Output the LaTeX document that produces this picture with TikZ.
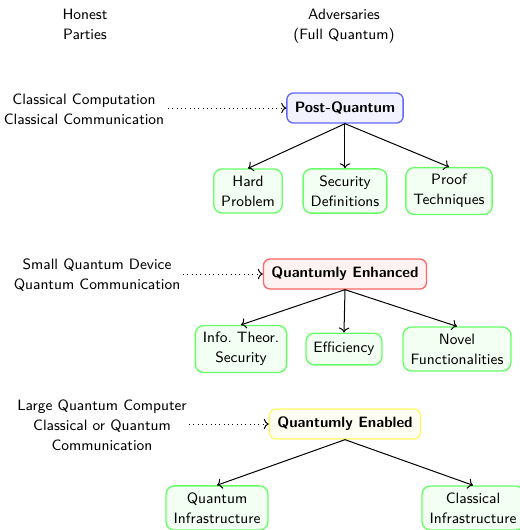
\documentclass[tikz,border=0pt]{standalone}
\usetikzlibrary{arrows.meta}
\begin{document}
\begin{tikzpicture}[x=0.6pt,y=-0.6pt,font=\sffamily\fontsize{9}{12}\selectfont,
  every node/.style={align=center},
  catbox/.style={draw,rounded corners=4pt,thick,inner xsep=4.8pt,inner ysep=4pt,minimum height=18pt,font=\sffamily\bfseries\fontsize{9}{12}\selectfont},
  pq/.style={catbox,draw=blue!60,fill=blue!5},
  qeh/.style={catbox,draw=red!60,fill=red!5},
  qeb/.style={catbox,draw=yellow!60,fill=yellow!5},
  leaf/.style={draw=green!60,fill=green!5,thick,rounded corners=5pt,inner xsep=4.5pt,inner ysep=4pt,minimum height=19pt},
  arr/.style={-{To[length=3pt]},semithick},
  dot/.style={-{To[length=3pt]},dotted,semithick}]
\useasboundingbox (0,0) rectangle (520,530);
\node (hon) at (85,24) {Honest\\Parties};
\node (adv) at (344,26) {Adversaries\\(Full Quantum)};

\node (l1) at (84,109) {Classical Computation\\Classical Communication};
\node[pq] (pq) at (345,108) {Post-Quantum};
\coordinate (s1) at (168,108);
\draw[dot] (s1) -- (pq);
\node[leaf] (hp) at (248,191) {Hard\\Problem};
\node[leaf] (sd) at (345,191) {Security\\Definitions};
\node[leaf] (pt) at (449,191) {Proof\\Techniques};
\draw[arr] (pq.south) -- (hp.north);
\draw[arr] (pq.south) -- (sd.north);
\draw[arr] (pq.south) -- (pt.north);

\node (l2) at (97,275) {Small Quantum Device\\Quantum Communication};
\node[qeh] (qeh) at (345,274) {Quantumly Enhanced};
\coordinate (s2) at (183,274);
\draw[dot] (s2) -- (qeh);
\node[leaf] (its) at (241,349) {Info.\ Theor.\\Security};
\node[leaf] (eff) at (344,349) {Efficiency};
\node[leaf] (nf) at (457,349) {Novel\\Functionalities};
\draw[arr] (qeh.south) -- (its.north);
\draw[arr] (qeh.south) -- (eff.north);
\draw[arr] (qeh.south) -- (nf.north);

\node (l3) at (102,425) {Large Quantum Computer\\Classical or Quantum\\Communication};
\node[qeb] (qeb) at (345,424) {Quantumly Enabled};
\coordinate (s3) at (189,424);
\draw[dot] (s3) -- (qeb);
\node[leaf] (qi) at (217,508) {Quantum\\Infrastructure};
\node[leaf] (ci) at (473,508) {Classical\\Infrastructure};
\draw[arr] (qeb.south) -- (qi.north);
\draw[arr] (qeb.south) -- (ci.north);
\end{tikzpicture}
\end{document}
